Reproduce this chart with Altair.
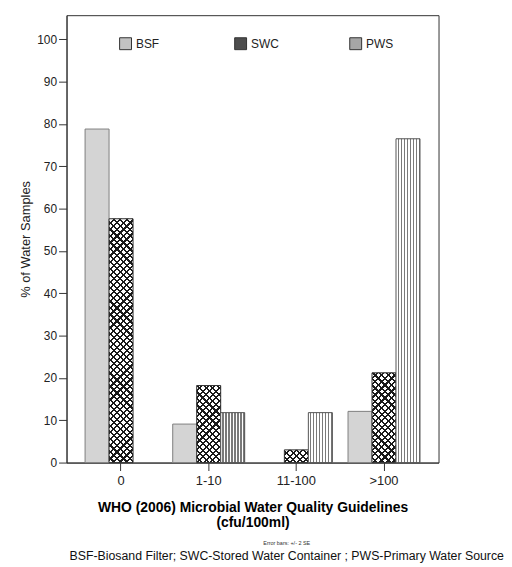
import altair as alt
import pandas as pd

# ---------------- data ----------------
categories = ["0", "1-10", "11-100", ">100"]
series = ["BSF", "SWC", "PWS"]
bsf_values = [78.8, 9.1, 0.0, 12.1]
swc_values = [57.6, 18.2, 3.0, 21.2]
pws_values = [0.0, 11.8, 11.8, 76.5]
y_ticks = [0, 10, 20, 30, 40, 50, 60, 70, 80, 90, 100]
y_title = "% of Water Samples"
x_title = ["WHO (2006) Microbial Water Quality Guidelines", "(cfu/100ml)"]
note_text = "Error bars: +/- 2 SE"
footer_text = "BSF-Biosand Filter; SWC-Stored Water Container ; PWS-Primary Water Source"

rows = []
for s, vals in zip(series, [bsf_values, swc_values, pws_values]):
    for c, v in zip(categories, vals):
        rows.append({"category": c, "series": s, "value": v})
df = pd.DataFrame(rows)

FONT = "Liberation Sans"


# ---------------- pattern helpers (style only) ----------------
def stripe_stops(period, line, ink, paper, span):
    parts = []
    k = 0
    while k * period < span:
        a = k * period / span
        b = (k * period + period - line) / span
        c = (k + 1) * period / span
        for off, col in [(a, paper), (b, paper), (b, ink), (c, ink)]:
            parts.append((min(off, 1.0), col))
        k += 1
    return parts


def stops_js(parts):
    return ",".join("{offset:%.6f,color:'%s'}" % (o, c) for o, c in parts)


L = 281.6  # gradient span in px (multiple of the hatch period)
W = "bandwidth('xOffset')"
H = "max(1,scale('y',0)-scale('y',datum.value))"
D = f"({W}*{W}+{H}*{H})"


def diag_expr(period, line, ink, paper, forward=True):
    st = stops_js(stripe_stops(period, line, ink, paper, L))
    if forward:
        return (f"{{gradient:'linear',x1:0,y1:0,x2:{L}*{W}/{D},"
                f"y2:{L}*{H}/{D},stops:[{st}]}}")
    return (f"{{gradient:'linear',x1:0,y1:1,x2:{L}*{W}/{D},"
            f"y2:1-{L}*{H}/{D},stops:[{st}]}}")


pws_gradient = {
    "gradient": "linear", "x1": 0, "y1": 0, "x2": 1, "y2": 0,
    "stops": [{"offset": o, "color": c}
              for o, c in stripe_stops(0.125, 0.05, "#7a7a7a", "#ffffff", 1.0)],
}

# ---------------- encodings ----------------
x_enc = alt.X(
    "category:N", sort=categories,
    scale=alt.Scale(domain=categories, paddingInner=0.179, paddingOuter=0.2115),
    axis=alt.Axis(title=x_title, labelAngle=0, tickSize=8, labelPadding=4,
                  labelFontSize=13, labelColor="#222", tickColor="#333",
                  domainColor="#333", titleFontSize=14, titleFontWeight="bold",
                  titleColor="#000", titleLineHeight=15, titlePadding=13),
)
xo_enc = alt.XOffset("series:N", scale=alt.Scale(domain=series, paddingInner=0, paddingOuter=0))
y_enc = alt.Y(
    "value:Q", stack=None,
    scale=alt.Scale(domain=[0, 105.7], nice=False, zero=True),
    axis=alt.Axis(title=y_title, values=y_ticks, tickSize=8, labelPadding=2,
                  labelFontSize=12, labelColor="#222", tickColor="#333",
                  domainColor="#333", grid=False, titleFontSize=13,
                  titleFontWeight="normal", titleColor="#222", titlePadding=4),
)

base = alt.Chart(df).transform_filter("datum.value > 0")

legend_layer = base.mark_bar(strokeOpacity=0).encode(
    x=x_enc, xOffset=xo_enc, y=y_enc,
    fill=alt.Fill(
        "series:N",
        scale=alt.Scale(domain=series, range=["#c2c2c2", "#4d4d4d", "#a6a6a6"]),
        legend=alt.Legend(title=None, orient="none", legendX=53, legendY=22,
                          direction="horizontal", columns=3, gridAlign="all",
                          columnPadding=69, symbolType="square", symbolSize=144,
                          symbolStrokeColor="#333", symbolStrokeWidth=1,
                          labelFontSize=12, labelOffset=4, labelColor="#222",
                          padding=0),
    ),
)

bsf_layer = base.transform_filter("datum.series == 'BSF'").mark_bar(
    fill="#d4d4d4", stroke="#808080", strokeWidth=1
).encode(x=x_enc, xOffset=xo_enc, y=y_enc)

swc_a = base.transform_filter("datum.series == 'SWC'").mark_bar(
    fill=alt.ExprRef(expr=diag_expr(6.6, 2.2, "#1a1a1a", "#ffffff", True)),
    strokeWidth=0,
).encode(x=x_enc, xOffset=xo_enc, y=y_enc)

swc_b = base.transform_filter("datum.series == 'SWC'").mark_bar(
    fill=alt.ExprRef(expr=diag_expr(6.6, 2.2, "#1a1a1a", "rgba(255,255,255,0)", False)),
    stroke="#333333", strokeWidth=1,
).encode(x=x_enc, xOffset=xo_enc, y=y_enc)

pws_layer = base.transform_filter("datum.series == 'PWS'").mark_bar(
    fill=pws_gradient, stroke="#555555", strokeWidth=1
).encode(x=x_enc, xOffset=xo_enc, y=y_enc)

chart = alt.layer(legend_layer, bsf_layer, swc_a, swc_b, pws_layer).properties(
    width=375, height=451,
    padding={"left": 11, "top": 5, "right": 0, "bottom": 0},
    title=alt.TitleParams(
        text=note_text, subtitle=footer_text, orient="bottom", anchor="middle",
        frame="group", dx=34.5, offset=12, fontSize=5.5, fontWeight="normal",
        color="#333", subtitleFontSize=12.4, subtitleColor="#111",
        subtitlePadding=4, font=FONT, subtitleFont=FONT,
    ),
).configure(font=FONT).configure_view(stroke="#333", strokeWidth=1)

chart.save("out.html", embed_options={"renderer": "svg", "actions": False})
